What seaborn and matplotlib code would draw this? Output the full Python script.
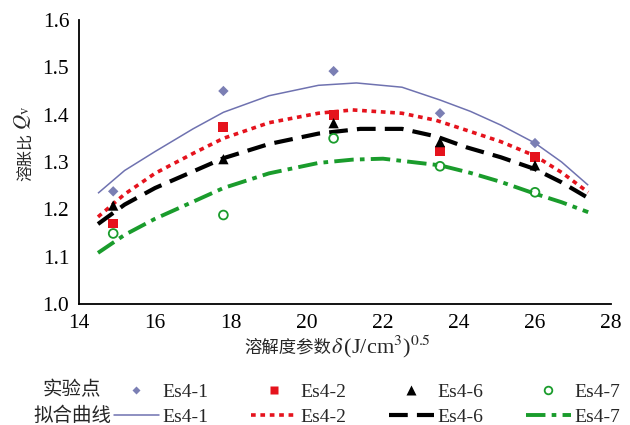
import numpy as np
import pandas as pd
import seaborn as sns
import matplotlib
matplotlib.use("Agg")
import matplotlib.pyplot as plt
from matplotlib.lines import Line2D

# ---- data ----
series = ["Es4-1", "Es4-2", "Es4-6", "Es4-7"]
pt_x = [14.9, 17.8, 20.7, 23.5, 26.0]
pt_es41 = [1.238, 1.450, 1.492, 1.403, 1.340]
pt_es42 = [1.170, 1.374, 1.400, 1.323, 1.310]
pt_es46 = [1.208, 1.306, 1.382, 1.342, 1.293]
pt_es47 = [1.149, 1.188, 1.350, 1.291, 1.236]

cx_es41 = [14.5, 15.2, 16.0, 17.0, 17.8, 19.0, 20.3, 21.3, 22.5, 23.5, 24.3, 25.1, 26.0, 26.7, 27.4]
cy_es41 = [1.234, 1.282, 1.322, 1.370, 1.405, 1.440, 1.462, 1.467, 1.458, 1.431, 1.407, 1.378, 1.340, 1.300, 1.251]
cx_es42 = [14.5, 15.2, 16.0, 17.0, 17.8, 19.0, 20.3, 21.2, 22.5, 23.4, 24.2, 25.1, 26.0, 26.7, 27.4]
cy_es42 = [1.184, 1.232, 1.276, 1.318, 1.350, 1.383, 1.403, 1.410, 1.403, 1.388, 1.367, 1.343, 1.313, 1.278, 1.236]
cx_es46 = [14.5, 15.2, 16.0, 17.0, 17.8, 19.0, 20.3, 21.4, 22.5, 23.4, 24.2, 25.1, 26.0, 26.7, 27.4]
cy_es46 = [1.169, 1.210, 1.245, 1.280, 1.308, 1.338, 1.360, 1.370, 1.370, 1.354, 1.331, 1.310, 1.285, 1.257, 1.224]
cx_es47 = [14.5, 15.2, 16.0, 17.0, 17.8, 19.0, 20.3, 21.2, 22.0, 23.5, 24.3, 25.1, 26.0, 26.7, 27.4]
cy_es47 = [1.108, 1.146, 1.180, 1.216, 1.245, 1.276, 1.298, 1.305, 1.307, 1.293, 1.277, 1.258, 1.233, 1.215, 1.194]

xticks = [14, 16, 18, 20, 22, 24, 26, 28]
yticks = [1.0, 1.1, 1.2, 1.3, 1.4, 1.5, 1.6]

sns.set_theme(style="white")
plt.rcParams["font.family"] = ["Liberation Serif", "Noto Sans CJK SC"]
plt.rcParams["mathtext.fontset"] = "stix"

colors = ["#7b7fb4", "#e5131d", "#000000", "#1a9c2c"]
line_styles = [
    dict(lw=1.1, ls="-", color="#6f72b0"),
    dict(lw=2.6, ls=(0, (1.3, 1.3)), color=colors[1]),
    dict(lw=3.0, ls=(0, (4.5, 2.2)), color=colors[2]),
    dict(lw=2.8, ls=(0, (5.0, 1.6, 1.2, 1.6)), color=colors[3]),
]
marker_styles = [
    dict(marker="D", s=28, color=colors[0], edgecolor="none"),
    dict(marker="s", s=50, color=colors[1], edgecolor="none"),
    dict(marker="^", s=55, color=colors[2], edgecolor="none"),
    dict(marker="o", s=40, facecolor="none", edgecolor=colors[3], linewidth=1.3),
]

W, H = 630, 425
fig = plt.figure(figsize=(6.3, 4.25), dpi=100)
ax = fig.add_axes([79 / W, 1 - 304 / H, (611 - 79) / W, (304 - 20) / H])

curves = [(cx_es41, cy_es41), (cx_es42, cy_es42), (cx_es46, cy_es46), (cx_es47, cy_es47)]
points = [pt_es41, pt_es42, pt_es46, pt_es47]

for (cx, cy), st in zip(curves, line_styles):
    df = pd.DataFrame({"x": cx, "y": cy})
    sns.lineplot(data=df, x="x", y="y", ax=ax, color=st["color"], lw=st["lw"],
                 linestyle=st["ls"], solid_capstyle="butt", dash_capstyle="butt",
                 solid_joinstyle="round")

for py, ms in zip(points, marker_styles):
    df = pd.DataFrame({"x": pt_x, "y": py})
    sns.scatterplot(data=df, x="x", y="y", ax=ax, zorder=5, **ms)

ax.set_xlim(14, 28)
ax.set_ylim(1.0, 1.6)
ax.set_xticks(xticks)
ax.set_yticks(yticks)
ax.set_xticklabels([str(v) for v in xticks])
ax.set_yticklabels([f"{v:.1f}" for v in yticks])
for s in ["top", "right"]:
    ax.spines[s].set_visible(False)
for s in ["left", "bottom"]:
    ax.spines[s].set_color("black")
    ax.spines[s].set_linewidth(1.3)
ax.tick_params(direction="in", length=5, width=1.2, labelsize=15.5, colors="black")
ax.tick_params(axis="y", pad=7)
ax.tick_params(axis="x", pad=7.5)
ax.set_xlabel("")
ax.set_ylabel("")

# x label: CJK part + math part
fig.text(331 / W, 1 - 353 / H, "溶解度参数", fontsize=12.5, ha="right", va="baseline",
         family=["Noto Sans CJK SC", "DejaVu Sans"])
fig.text(331 / W, 1 - 353 / H, r"$\delta\,$(J/cm$^3$)$^{0.5}$", fontsize=16,
         ha="left", va="baseline")

# y label: CJK part + math part (rotated)
fig.text(31 / W, 1 - 181 / H, "溶胀比", fontsize=11.5, rotation=90, rotation_mode="anchor",
         ha="left", va="baseline", family=["Noto Sans CJK SC", "DejaVu Sans"])
fig.text(27 / W, 1 - 130 / H, r"$Q_{\rm v}$", fontsize=15, rotation=90,
         rotation_mode="anchor", ha="left", va="baseline")

# legend
handles = []
for i in range(4):
    ms = marker_styles[i]
    if ms["marker"] == "o":
        mh = Line2D([], [], ls="none", marker="o", markersize=5.5, markerfacecolor="none",
                    markeredgecolor=colors[3], markeredgewidth=1.3)
    else:
        mh = Line2D([], [], ls="none", marker=ms["marker"],
                    markersize={"D": 4.5, "s": 6, "^": 6.5}[ms["marker"]],
                    markerfacecolor=ms["color"], markeredgecolor="none")
    st = line_styles[i]
    lh = Line2D([], [], color=st["color"], lw=st["lw"], ls=st["ls"], dash_capstyle="butt")
    handles += [mh, lh]
labels = []
for s in series:
    labels += [s, s]
leg = fig.legend(handles, labels, ncol=4, loc="upper left", bbox_to_anchor=(0.181, 0.099),
                 frameon=False, fontsize=14, handlelength=2.3, handletextpad=0.2,
                 columnspacing=2.2, labelspacing=0.41, borderaxespad=0, borderpad=0)
fig.text(72 / W, 1 - 390 / H, "实验点", fontsize=14, ha="center", va="center",
         family=["Noto Sans CJK SC", "DejaVu Sans"])
fig.text(72 / W, 1 - 415 / H, "拟合曲线", fontsize=14, ha="center", va="center",
         family=["Noto Sans CJK SC", "DejaVu Sans"])

fig.savefig("out.png", dpi=100)
